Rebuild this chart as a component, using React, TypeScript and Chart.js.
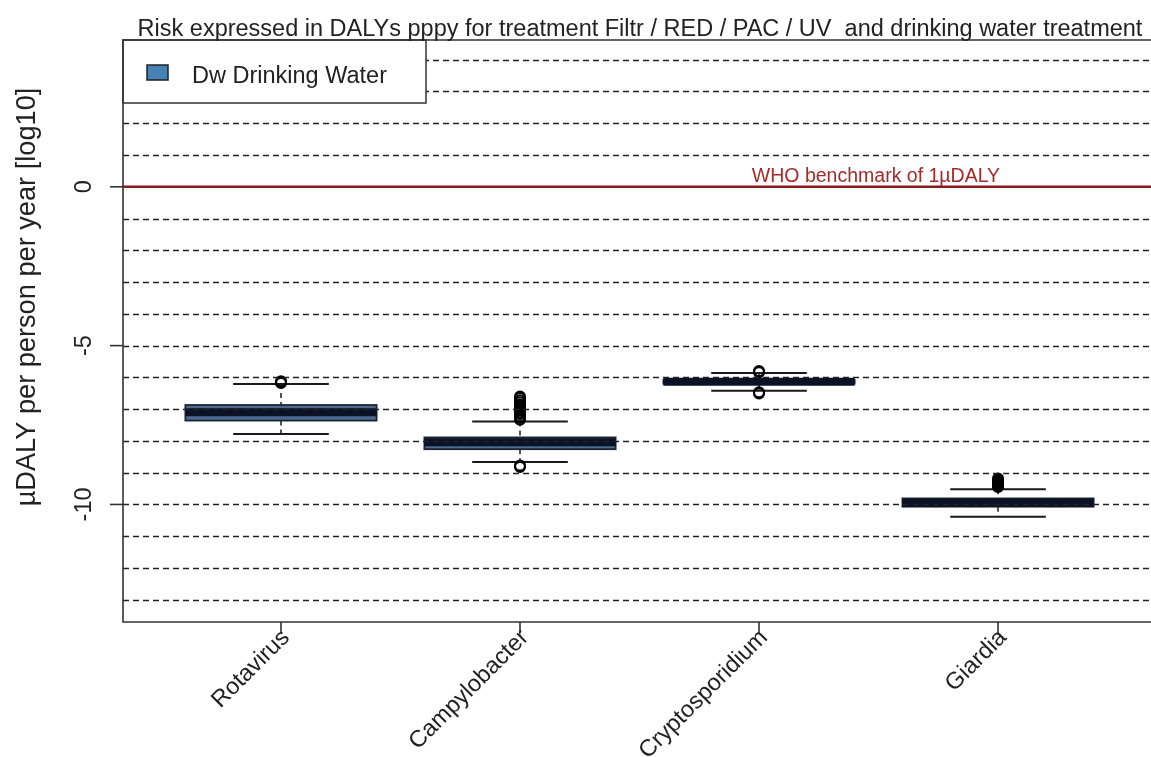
import React, { useEffect, useRef } from "react";
import { Chart, registerables } from "chart.js";

Chart.register(...registerables);

// ---------- data ----------
const categories = ["Rotavirus", "Campylobacter", "Cryptosporidium", "Giardia"];
const whiskerLow = [-7.78, -8.66, -6.42, -10.39];
const q1 = [-7.36, -8.26, -6.2, -10.07];
const medians = [-7.1, -8.04, -6.14, -9.95];
const q3 = [-6.87, -7.89, -6.08, -9.81];
const whiskerHigh = [-6.21, -7.39, -5.86, -9.52];

const outliersRotavirus = [-6.12, -6.15, -6.18];
const outliersCampylobacter = [
  -6.6, -6.65, -6.72, -6.78, -6.85, -6.9, -6.97, -7.03, -7.1, -7.15, -7.22, -7.28, -7.33,
  -8.77, -8.82,
];
const outliersCryptosporidium = [-5.8, -5.84, -6.47, -6.51];
const outliersGiardia = [-9.18, -9.22, -9.26, -9.3, -9.34, -9.38, -9.42, -9.45];

const yTickValues = [0, -5, -10];
const gridLevels = [4, 3, 2, 1, -1, -2, -3, -4, -5, -6, -7, -8, -9, -10, -11, -12, -13];
const benchmarkLevel = 0;

const titleText =
  "Risk expressed in DALYs pppy for treatment Filtr / RED / PAC / UV  and drinking water treatment";
const yTitleText = "µDALY per person per year [log10]";
const legendLabel = "Dw Drinking Water";
const benchmarkLabel = "WHO benchmark of 1µDALY";

// ---------- styling ----------
const FONT = '"Liberation Sans", Arial, Helvetica, sans-serif';
const BOX_FILL = "#4c6a91";
const LEGEND_FILL = "#4682B4";
const INK = "#1a1a1a";

const outlierGroups = [
  outliersRotavirus,
  outliersCampylobacter,
  outliersCryptosporidium,
  outliersGiardia,
];

const boxPlugin = {
  id: "rBoxplot",
  beforeDatasetsDraw(chart: any) {
    const { ctx, scales } = chart;
    const x = scales.x;
    const y = scales.y;
    ctx.save();
    categories.forEach((_, i) => {
      const cx = x.getPixelForValue(i + 1);
      const half = x.getPixelForValue(i + 1 + 0.4) - cx;
      const capHalf = half / 2;
      const yLo = y.getPixelForValue(whiskerLow[i]);
      const yQ1 = y.getPixelForValue(q1[i]);
      const yMed = y.getPixelForValue(medians[i]);
      const yQ3 = y.getPixelForValue(q3[i]);
      const yHi = y.getPixelForValue(whiskerHigh[i]);

      // whiskers (dashed)
      ctx.strokeStyle = INK;
      ctx.lineWidth = 1.5;
      ctx.setLineDash([5, 4]);
      ctx.beginPath();
      ctx.moveTo(cx, yHi);
      ctx.lineTo(cx, yQ3);
      ctx.moveTo(cx, yQ1);
      ctx.lineTo(cx, yLo);
      ctx.stroke();
      ctx.setLineDash([]);

      // staples
      ctx.lineWidth = 2;
      ctx.beginPath();
      ctx.moveTo(cx - capHalf, yHi);
      ctx.lineTo(cx + capHalf, yHi);
      ctx.moveTo(cx - capHalf, yLo);
      ctx.lineTo(cx + capHalf, yLo);
      ctx.stroke();

      // box
      ctx.fillStyle = BOX_FILL;
      ctx.fillRect(cx - half, yQ3, 2 * half, yQ1 - yQ3);
      ctx.lineWidth = 1.8;
      ctx.strokeStyle = "#1c2433";
      ctx.strokeRect(cx - half, yQ3, 2 * half, yQ1 - yQ3);

      // median
      ctx.strokeStyle = "#0b1226";
      ctx.lineWidth = 8;
      ctx.beginPath();
      ctx.moveTo(cx - half, yMed);
      ctx.lineTo(cx + half, yMed);
      ctx.stroke();
    });
    ctx.restore();
  },
  afterDatasetsDraw(chart: any) {
    const { ctx, scales, chartArea } = chart;
    const x = scales.x;
    const y = scales.y;
    const { left, top, bottom } = chartArea;
    const right = chart.width + 2;
    ctx.save();

    // dashed horizontal reference lines
    ctx.strokeStyle = "#222";
    ctx.lineWidth = 1.6;
    ctx.setLineDash([6, 4]);
    gridLevels.forEach((lv) => {
      const py = Math.round(y.getPixelForValue(lv)) + 0.5;
      ctx.beginPath();
      ctx.moveTo(left, py);
      ctx.lineTo(right, py);
      ctx.stroke();
    });
    ctx.setLineDash([]);

    // benchmark line
    const by = y.getPixelForValue(benchmarkLevel);
    ctx.strokeStyle = "#8B1A1A";
    ctx.lineWidth = 2.5;
    ctx.beginPath();
    ctx.moveTo(left, by);
    ctx.lineTo(right, by);
    ctx.stroke();

    ctx.fillStyle = "#A52A2A";
    ctx.font = `19.5px ${FONT}`;
    ctx.textAlign = "left";
    ctx.textBaseline = "alphabetic";
    ctx.fillText(benchmarkLabel, x.getPixelForValue(2.97), by - 5);

    // legend
    const lgW = 303;
    const lgH = 63;
    ctx.fillStyle = "#fff";
    ctx.fillRect(left, top, lgW, lgH);
    ctx.strokeStyle = "#333";
    ctx.lineWidth = 1.5;
    ctx.strokeRect(left, top, lgW, lgH);
    ctx.fillStyle = LEGEND_FILL;
    ctx.fillRect(left + 24, top + 25, 21, 15);
    ctx.strokeStyle = "#222";
    ctx.lineWidth = 1.5;
    ctx.strokeRect(left + 24, top + 25, 21, 15);
    ctx.fillStyle = "#222";
    ctx.font = `23.5px ${FONT}`;
    ctx.textAlign = "left";
    ctx.textBaseline = "alphabetic";
    ctx.fillText(legendLabel, left + 69, top + 43);

    // plot frame
    ctx.strokeStyle = "#333";
    ctx.lineWidth = 1.6;
    ctx.beginPath();
    ctx.moveTo(right, top);
    ctx.lineTo(left, top);
    ctx.lineTo(left, bottom);
    ctx.lineTo(right, bottom);
    ctx.stroke();

    // y ticks + labels
    ctx.fillStyle = "#222";
    ctx.font = `23.5px ${FONT}`;
    yTickValues.forEach((v) => {
      const py = y.getPixelForValue(v);
      ctx.beginPath();
      ctx.moveTo(left - 13, py);
      ctx.lineTo(left, py);
      ctx.stroke();
      ctx.save();
      ctx.translate(left - 32, py);
      ctx.rotate(-Math.PI / 2);
      ctx.textAlign = "center";
      ctx.textBaseline = "alphabetic";
      ctx.fillText(String(v), 0, 0);
      ctx.restore();
    });

    // y title
    ctx.save();
    ctx.font = `27.2px ${FONT}`;
    ctx.translate(left - 88, (top + bottom) / 2 - 34);
    ctx.rotate(-Math.PI / 2);
    ctx.textAlign = "center";
    ctx.textBaseline = "alphabetic";
    ctx.fillText(yTitleText, 0, 0);
    ctx.restore();

    // x ticks + rotated labels
    ctx.font = `23.5px ${FONT}`;
    categories.forEach((c, i) => {
      const px = x.getPixelForValue(i + 1);
      ctx.beginPath();
      ctx.moveTo(px, bottom);
      ctx.lineTo(px, bottom + 11);
      ctx.stroke();
      ctx.save();
      ctx.translate(px + 5, bottom + 12);
      ctx.rotate(-Math.PI / 4);
      ctx.textAlign = "right";
      ctx.textBaseline = "middle";
      ctx.fillText(c, 0, 0);
      ctx.restore();
    });

    // title
    ctx.fillStyle = "#222";
    ctx.font = `23.5px ${FONT}`;
    ctx.textAlign = "center";
    ctx.textBaseline = "alphabetic";
    ctx.fillText(titleText, 640, top - 4);

    ctx.restore();
  },
};

export default function App() {
  const canvasRef = useRef<HTMLCanvasElement | null>(null);

  useEffect(() => {
    const canvas = canvasRef.current;
    if (!canvas) return;
    const points: { x: number; y: number }[] = [];
    outlierGroups.forEach((grp, i) => {
      grp.forEach((v) => points.push({ x: i + 1, y: v }));
    });
    const chart = new Chart(canvas, {
      type: "scatter",
      data: {
        datasets: [
          {
            label: "outliers",
            data: points,
            pointStyle: "circle",
            pointRadius: 5,
            pointHoverRadius: 5,
            borderWidth: 2,
            borderColor: "#000",
            backgroundColor: "rgba(0,0,0,0)",
          },
        ],
      },
      options: {
        animation: false,
        responsive: false,
        devicePixelRatio: 1,
        layout: { autoPadding: false, padding: { left: 123, top: 40, right: 0, bottom: 135 } },
        scales: {
          x: { type: "linear", min: 0.339, max: 4.64, display: false },
          y: { type: "linear", min: -13.7, max: 4.62, display: false },
        },
        plugins: {
          legend: { display: false },
          tooltip: { enabled: false },
          title: { display: false },
        },
        events: [],
      },
      plugins: [boxPlugin],
    });
    return () => chart.destroy();
  }, []);

  return (
    <div
      style={{
        position: "absolute",
        left: 0,
        top: 0,
        width: 1151,
        height: 757,
        background: "#fff",
      }}
    >
      <canvas ref={canvasRef} width={1151} height={757} style={{ display: "block" }} />
    </div>
  );
}
